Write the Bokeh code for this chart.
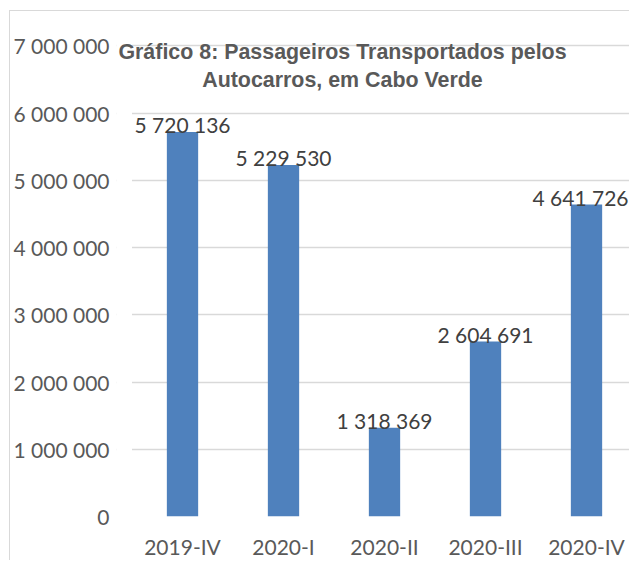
from bokeh.plotting import figure
from bokeh.models import ColumnDataSource, Range1d, FixedTicker, Label, BoxAnnotation
from bokeh.core.properties import value
from bokeh.embed import file_html
from bokeh.resources import INLINE

# ---- data ----
categories = ["2019-IV", "2020-I", "2020-II", "2020-III", "2020-IV"]
passengers = [5720136, 5229530, 1318369, 2604691, 4641726]
y_ticks = [0, 1000000, 2000000, 3000000, 4000000, 5000000, 6000000, 7000000]
y_tick_labels = ["0", "1 000 000", "2 000 000", "3 000 000", "4 000 000",
                 "5 000 000", "6 000 000", "7 000 000"]
title_lines = ["Gráfico 8: Passageiros Transportados pelos",
               "Autocarros, em Cabo Verde"]


def fmt(v):
    return f"{v:,}".replace(",", " ")


# small horizontal nudge (px) so the last data label stays inside the chart
label_dx = [0, 0, 0, 0, -6]

xs = list(range(len(categories)))
src = ColumnDataSource(dict(x=xs, v=passengers, lab=[fmt(v) for v in passengers],
                            dx=label_dx))

BAR = "#4F81BD"
GRID = "#D9D9D9"
AXIS_TXT = "#595959"
LBL_TXT = "#404040"
FONT = "Lato"

p = figure(width=620, height=550, output_backend="svg", toolbar_location=None,
           x_range=Range1d(-0.6535, 4.4356), y_range=Range1d(0, 7229000),
           min_border_left=106, min_border_right=0, min_border_top=19,
           min_border_bottom=42)
p.styles = {"margin-left": "9px", "margin-top": "10px",
            "border-top": "1px solid #D9D9D9", "border-left": "1px solid #D9D9D9"}
p.outline_line_color = None
p.background_fill_color = "white"
p.border_fill_color = "white"

# white strip hiding gridlines left of the first category slot
p.add_layout(BoxAnnotation(right=-0.5, fill_color="white", fill_alpha=1.0,
                           line_color=None))

p.vbar(x="x", top="v", width=0.31, bottom=0, source=src,
       fill_color=BAR, line_color=None)
p.text(x="x", y="v", text="lab", x_offset="dx", y_offset=-7, source=src,
       text_align="center", text_baseline="alphabetic", text_font=value(FONT),
       text_font_size="21px", text_color=LBL_TXT)

# axes
p.yaxis.ticker = FixedTicker(ticks=y_ticks)
p.yaxis.major_label_overrides = dict(zip(y_ticks, y_tick_labels))
p.xaxis.ticker = FixedTicker(ticks=xs)
p.xaxis.major_label_overrides = dict(zip(xs, categories))
for ax in (p.xaxis[0], p.yaxis[0]):
    ax.axis_line_color = None
    ax.major_tick_line_color = None
    ax.minor_tick_line_color = None
    ax.major_tick_out = 0
    ax.major_tick_in = 0
    ax.minor_tick_out = 0
    ax.major_label_text_font = FONT
    ax.major_label_text_font_size = "21px"
    ax.major_label_text_color = AXIS_TXT
p.yaxis.major_label_standoff = 7
p.xaxis.major_label_standoff = 17

p.xgrid.grid_line_color = None
p.ygrid.grid_line_color = GRID
p.ygrid.grid_line_width = 1.5
p.ygrid.ticker = FixedTicker(ticks=y_ticks)

# title inside the plot area
for txt, yy in zip(title_lines, [6910000, 6500000]):
    p.add_layout(Label(x=1.584, y=yy, text=txt, text_align="center",
                       text_baseline="alphabetic", text_font="Liberation Sans",
                       text_font_style="bold", text_font_size="21.4px",
                       text_color=AXIS_TXT))

open("out.html", "w").write(file_html(p, INLINE))
